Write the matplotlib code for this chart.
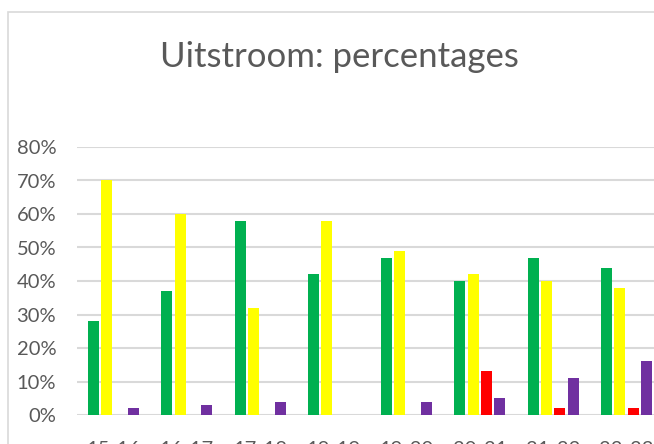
import numpy as np
import matplotlib.pyplot as plt
from matplotlib.patches import Rectangle

# Schooljaren en percentages per reeks (0-1)
jaren = ["15-16", "16-17", "17-18", "18-19", "19-20", "20-21", "21-22", "22-23"]
groen = [0.28, 0.37, 0.58, 0.42, 0.47, 0.40, 0.47, 0.44]
geel  = [0.70, 0.60, 0.32, 0.58, 0.49, 0.42, 0.40, 0.38]
rood  = [0.00, 0.00, 0.00, 0.00, 0.00, 0.13, 0.02, 0.02]
paars = [0.02, 0.03, 0.04, 0.00, 0.04, 0.05, 0.11, 0.16]

reeksen = [groen, geel, rood, paars]
kleuren = ["#00B050", "#FFFF00", "#FF0000", "#7030A0"]

TEXT = "#595959"
GRID = "#D9D9D9"
FONT = "Lato"

W, H = 654, 444
fig = plt.figure(figsize=(W / 100, H / 100), dpi=100)
fig.patch.set_facecolor("white")

# chart border (extends beyond the cropped image)
fig.patches.append(Rectangle((8 / W, -0.5), 2, (H - 12) / H + 0.5, transform=fig.transFigure,
                             fill=False, edgecolor=GRID, linewidth=1.2))

ax = fig.add_axes([77 / W, 29 / H, (663 - 77) / W, (415 - 147) / H])
ax.set_facecolor("none")

x = np.arange(len(jaren))
step = 0.182
for j, (vals, kleur) in enumerate(zip(reeksen, kleuren)):
    ax.bar(x + (j - 1.5) * step, vals, width=0.15, color=kleur, zorder=3)

ax.set_xlim(-0.5, len(jaren) - 0.5)
ax.set_ylim(0, 0.8)
ax.set_yticks(np.arange(0, 0.81, 0.1))
ax.set_yticklabels([f"{int(round(v * 100))}%" for v in np.arange(0, 0.81, 0.1)])
ax.set_xticks(x)
ax.set_xticklabels(jaren)
ax.yaxis.grid(True, color=GRID, linewidth=1.5, zorder=0)
ax.set_axisbelow(True)
for s in ax.spines.values():
    s.set_visible(False)
ax.tick_params(axis="y", length=0, pad=15, labelsize=14.5, labelcolor=TEXT)
ax.tick_params(axis="x", length=0, pad=18.5, labelsize=14.5, labelcolor=TEXT)
for lbl in ax.get_xticklabels() + ax.get_yticklabels():
    lbl.set_family(FONT)

fig.text(339 / W, 1 - 57 / H, "Uitstroom: percentages", ha="center", va="center",
         fontsize=25, color=TEXT, family=FONT, fontweight="normal")

plt.savefig("out.png", dpi=100, facecolor="white")
plt.close()
